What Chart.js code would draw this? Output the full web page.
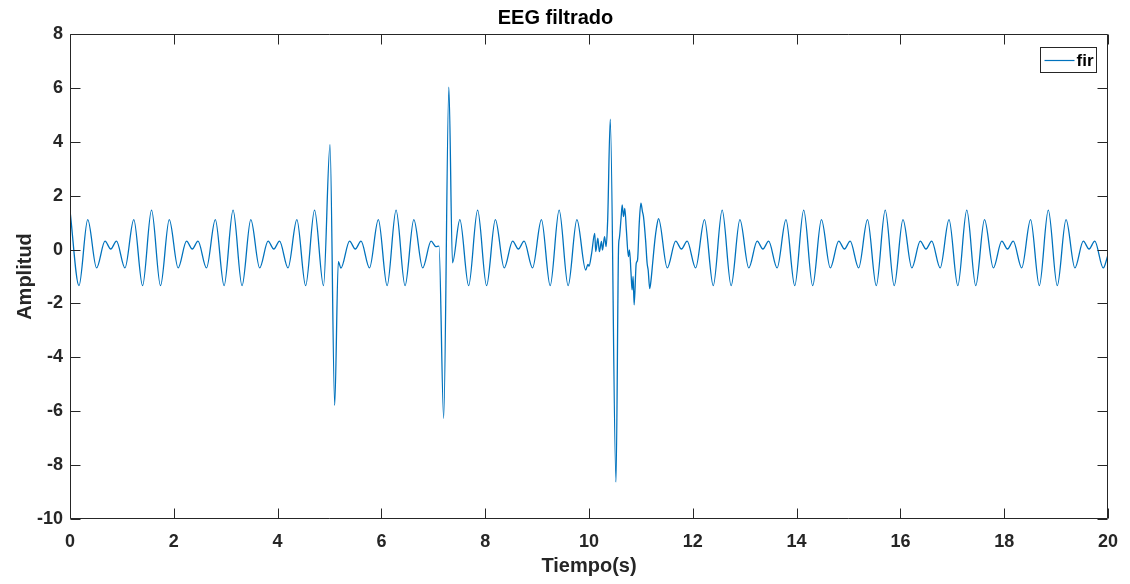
<!DOCTYPE html>
<html>
<head>
<meta charset="utf-8">
<script src="https://cdn.jsdelivr.net/npm/chart.js@4.4.1/dist/chart.umd.min.js"></script>
<style>
  html, body { margin: 0; padding: 0; background: #ffffff; }
  #wrap { width: 1130px; height: 584px; }
</style>
</head>
<body>
<div id="wrap"><canvas id="c" width="1130" height="584"></canvas></div>
<script>
// ---- Data (local extrema of the filtered EEG) ----
const chartTitle = 'EEG filtrado';
const xTitle = 'Tiempo(s)';
const yTitle = 'Amplitud';
const seriesLabel = 'fir';

const xTicks = [0, 2, 4, 6, 8, 10, 12, 14, 16, 18, 20];
const yTicks = [-10, -8, -6, -4, -2, 0, 2, 4, 6, 8];

const tiempo = [
  0.000, 0.173, 0.342, 0.512, 0.675, 0.785, 0.895, 1.059, 1.229, 1.398,
  1.571, 1.744, 1.913, 2.083, 2.246, 2.356, 2.466, 2.630, 2.800, 2.969,
  3.142, 3.315, 3.484, 3.654, 3.817, 3.927, 4.037, 4.201, 4.371, 4.540,
  4.712, 4.885, 5.010, 5.100, 5.170, 5.220, 5.387, 5.497, 5.607, 5.771, 5.941, 6.110,
  6.283, 6.456, 6.625, 6.795, 6.958, 7.050, 7.110, 7.200, 7.300, 7.370, 7.512, 7.681,
  7.854, 8.027, 8.196, 8.366, 8.529, 8.639, 8.749, 8.913, 9.083, 9.252,
  9.425, 9.598, 9.767, 9.937, 9.980, 10.000, 10.050, 10.110, 10.130, 10.170, 10.200,
  10.240, 10.260, 10.300, 10.330, 10.360, 10.410, 10.520, 10.570, 10.585, 10.620,
  10.640, 10.665, 10.690, 10.720, 10.760, 10.780, 10.810, 10.830, 10.850, 10.870,
  10.910, 10.935, 10.970, 11.000, 11.030, 11.050, 11.090, 11.120, 11.140, 11.170,
  11.200, 11.220, 11.270, 11.300, 11.340, 11.508, 11.671, 11.781, 11.891, 12.055,
  12.225, 12.394,
  12.566, 12.739, 12.908, 13.078, 13.241, 13.351, 13.461, 13.625, 13.795, 13.964,
  14.137, 14.310, 14.479, 14.649, 14.812, 14.922, 15.032, 15.196, 15.366, 15.535,
  15.708, 15.881, 16.050, 16.220, 16.383, 16.493, 16.603, 16.767, 16.937, 17.106,
  17.279, 17.452, 17.621, 17.791, 17.954, 18.064, 18.174, 18.338, 18.508, 18.677,
  18.850, 19.023, 19.192, 19.362, 19.525, 19.635, 19.745, 19.909, 20.000
];

const amplitud = [
  1.45, -1.34, 1.11, -0.68, 0.31, 0.02, 0.31, -0.68, 1.11, -1.34,
  1.46, -1.34, 1.11, -0.68, 0.31, 0.02, 0.31, -0.68, 1.11, -1.34,
  1.46, -1.34, 1.11, -0.68, 0.31, 0.02, 0.31, -0.68, 1.11, -1.34,
  1.46, -1.34, 3.89, -5.78, -0.45, -0.69, 0.31, 0.02, 0.31, -0.68, 1.11, -1.34,
  1.46, -1.34, 1.11, -0.68, 0.31, 0.11, 0.13, -6.26, 6.03, -0.49, 1.11, -1.34,
  1.46, -1.34, 1.11, -0.68, 0.31, 0.02, 0.31, -0.68, 1.11, -1.34,
  1.46, -1.34, 1.11, -0.76, -0.55, -0.62, -0.15, 0.60, -0.08, 0.42, -0.08,
  0.30, -0.02, 0.48, 0.11, 1.10, 4.84, -8.63, 0.11, 0.42, 1.22,
  1.66, 1.22, 1.53, 0.73, -0.26, -0.01, -0.88, -1.50, -1.00, -2.05,
  -0.51, -0.39, 1.04, 1.72, 1.41, 1.22, 0.36, -0.51, -0.76, -1.45,
  -1.05, -0.64, 0.36, 0.80, 1.15, -0.68, 0.31, 0.02, 0.31, -0.68,
  1.11, -1.34,
  1.46, -1.34, 1.11, -0.68, 0.31, 0.02, 0.31, -0.68, 1.11, -1.34,
  1.46, -1.34, 1.11, -0.68, 0.31, 0.02, 0.31, -0.68, 1.11, -1.34,
  1.46, -1.34, 1.11, -0.68, 0.31, 0.02, 0.31, -0.68, 1.11, -1.34,
  1.46, -1.34, 1.11, -0.68, 0.31, 0.02, 0.31, -0.68, 1.11, -1.34,
  1.46, -1.34, 1.11, -0.68, 0.31, 0.02, 0.31, -0.68, -0.20
];

// ---- Styling ----
const FONT = '"Liberation Sans", Arial, Helvetica, sans-serif';
const AXIS_COLOR = '#262626';
const LINE_COLOR = '#0072BD';

const points = tiempo.map((t, i) => ({ x: t, y: amplitud[i] }));

// Draws MATLAB-style box, inward ticks and the in-plot legend
const matlabBox = {
  id: 'matlabBox',
  afterDatasetsDraw(chart) {
    const { ctx, chartArea: a, scales } = chart;
    const xs = scales.x, ys = scales.y;
    const L = Math.round(a.left) + 0.5, R = Math.round(a.right) - 0.5;
    const T = Math.round(a.top) + 0.5, B = Math.round(a.bottom) - 0.5;
    const tl = 10;
    ctx.save();
    ctx.strokeStyle = AXIS_COLOR;
    ctx.lineWidth = 1;
    ctx.beginPath();
    ctx.moveTo(L, T); ctx.lineTo(R, T); ctx.lineTo(R, B); ctx.lineTo(L, B); ctx.closePath();
    xTicks.forEach(v => {
      const px = Math.round(xs.getPixelForValue(v)) + 0.5;
      ctx.moveTo(px, B); ctx.lineTo(px, B - tl);
      ctx.moveTo(px, T); ctx.lineTo(px, T + tl);
    });
    yTicks.forEach(v => {
      const py = Math.round(ys.getPixelForValue(v)) + 0.5;
      ctx.moveTo(L, py); ctx.lineTo(L + tl, py);
      ctx.moveTo(R, py); ctx.lineTo(R - tl, py);
    });
    ctx.stroke();

    // legend box (top-right, inside the axes)
    const bw = 56, bh = 25;
    const bx = Math.round(a.right) - 12 - bw + 0.5;
    const by = Math.round(a.top) + 13 + 0.5;
    ctx.fillStyle = '#ffffff';
    ctx.fillRect(bx, by, bw, bh);
    ctx.strokeStyle = AXIS_COLOR;
    ctx.strokeRect(bx, by, bw, bh);
    const ly = Math.round(by + bh / 2) + 0.5;
    ctx.strokeStyle = LINE_COLOR;
    ctx.lineWidth = 1.2;
    ctx.beginPath();
    ctx.moveTo(bx + 4, ly); ctx.lineTo(bx + 34, ly);
    ctx.stroke();
    ctx.fillStyle = '#000000';
    ctx.font = 'bold 17px ' + FONT;
    ctx.textBaseline = 'middle';
    ctx.textAlign = 'left';
    ctx.fillText(chart.data.datasets[0].label, bx + 36, ly + 1);
    ctx.restore();
  }
};

new Chart(document.getElementById('c'), {
  type: 'line',
  data: {
    datasets: [{
      label: seriesLabel,
      data: points,
      borderColor: LINE_COLOR,
      borderWidth: 1.3,
      pointRadius: 0,
      pointHoverRadius: 0,
      fill: false,
      cubicInterpolationMode: 'monotone'
    }]
  },
  options: {
    responsive: false,
    animation: false,
    devicePixelRatio: 1,
    layout: { padding: { left: 0, right: 19, top: 0, bottom: 0 } },
    plugins: {
      legend: { display: false },
      tooltip: { enabled: false },
      title: {
        display: true,
        text: chartTitle,
        color: '#000000',
        font: { family: FONT, size: 20, weight: 'bold', lineHeight: 1.2 },
        padding: { top: 6, bottom: 4 }
      }
    },
    scales: {
      x: {
        type: 'linear',
        min: 0, max: 20,
        afterBuildTicks: s => { s.ticks = xTicks.map(v => ({ value: v })); },
        afterFit: s => { s.height = 65; },
        grid: { display: false, drawTicks: false },
        border: { display: false },
        ticks: {
          color: AXIS_COLOR,
          padding: 12,
          maxRotation: 0,
          autoSkip: false,
          font: { family: FONT, size: 18, weight: 'bold' }
        },
        title: {
          display: true,
          text: xTitle,
          color: AXIS_COLOR,
          font: { family: FONT, size: 20, weight: 'bold', lineHeight: 1.2 },
          padding: { top: 0, bottom: 6 }
        }
      },
      y: {
        type: 'linear',
        min: -10, max: 8,
        afterBuildTicks: s => { s.ticks = yTicks.map(v => ({ value: v })); },
        afterFit: s => { s.width = 70; },
        grid: { display: false, drawTicks: false },
        border: { display: false },
        ticks: {
          color: AXIS_COLOR,
          padding: 7,
          autoSkip: false,
          font: { family: FONT, size: 18, weight: 'bold' }
        },
        title: {
          display: true,
          text: yTitle,
          color: AXIS_COLOR,
          font: { family: FONT, size: 20, weight: 'bold', lineHeight: 1.2 },
          padding: { top: 13, bottom: 0 }
        }
      }
    }
  },
  plugins: [matlabBox]
});
</script>
</body>
</html>
